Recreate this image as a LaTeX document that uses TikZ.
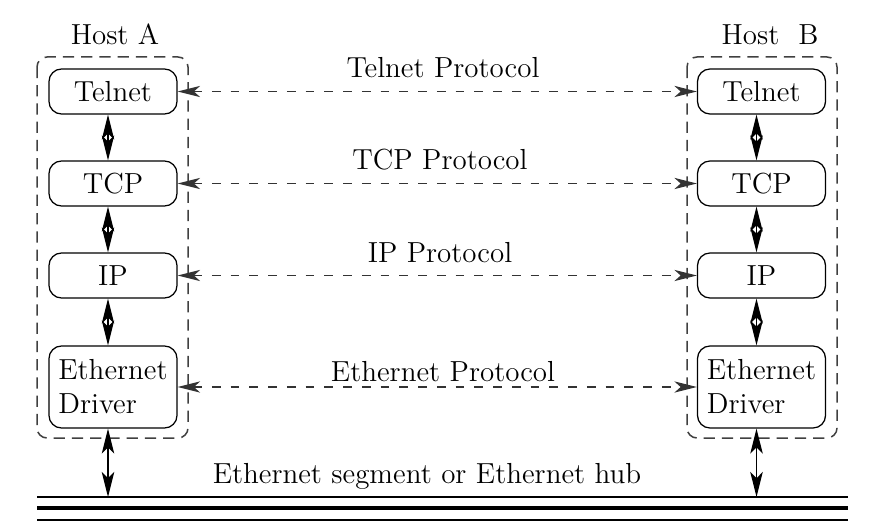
\documentclass[tikz,border=0pt]{standalone}
\usetikzlibrary{arrows.meta}

\begin{document}
\begin{tikzpicture}[x=0.4pt,y=-0.4pt,
    every node/.style={font=\fontsize{11.6}{13.6}\selectfont},
    layer/.style={draw,rounded corners=5pt,line width=0.5pt,inner sep=0pt,
      minimum width=51.2pt,minimum height=18pt,align=left},
    host/.style={draw=black!75,line width=0.6pt,rounded corners=4pt,
      dash pattern=on 4.5pt off 2.8pt},
    peer/.style={draw=black!80,line width=0.6pt,dash pattern=on 3.5pt off 4pt,
      {Stealth[length=9pt,width=4.5pt,inset=2.5pt]}-{Stealth[length=9pt,width=4.5pt,inset=2.5pt]}},
    stack/.style={line width=0.5pt,{Stealth[length=10pt,width=5pt,inset=2.5pt]}-{Stealth[length=10pt,width=5pt,inset=2.5pt]}},
    lbl/.style={anchor=base,inner sep=0pt}]
        \useasboundingbox (0,0) rectangle (877,531);
        %
        \draw [host] (37,57) rectangle (188,438);
        \draw [host] (687,57) rectangle (837,438);
        \node [lbl] (hostA) at (115,45) {Host A};
        \node [lbl] (hostB) at (770,45) {Host\ \ B};
        %
        \node [layer] (telA) at (113,91.5) {Telnet};
        \node [layer] (tcpA) at (113,183.5) {TCP};
        \node [layer] (ipA) at (113,275.5) {IP};
        \node [layer,minimum height=32.8pt] (ethA) at (113,387) {Ethernet\\Driver};
        %
        \node [layer] (telB) at (761.5,91.5) {Telnet};
        \node [layer] (tcpB) at (761.5,183.5) {TCP};
        \node [layer] (ipB) at (761.5,275.5) {IP};
        \node [layer,minimum height=32.8pt] (ethB) at (761.5,387) {Ethernet\\Driver};
        %
        \draw [stack] ([xshift=-2pt]telA.south) -- ([xshift=-2pt]tcpA.north);
        \draw [stack] ([xshift=-2pt]tcpA.south) -- ([xshift=-2pt]ipA.north);
        \draw [stack] ([xshift=-2pt]ipA.south) -- ([xshift=-2pt]ethA.north);
        \draw [stack] ([xshift=-2pt]telB.south) -- ([xshift=-2pt]tcpB.north);
        \draw [stack] ([xshift=-2pt]tcpB.south) -- ([xshift=-2pt]ipB.north);
        \draw [stack] ([xshift=-2pt]ipB.south) -- ([xshift=-2pt]ethB.north);
        %
        \draw [peer] (telA.east) -- (telB.west);
        \draw [peer] (tcpA.east) -- (tcpB.west);
        \draw [peer] (ipA.east) -- (ipB.west);
        \draw [peer] (ethA.east) -- (ethB.west);
        \node [lbl] (telP) at (443,78) {Telnet Protocol};
        \node [lbl] (tcpP) at (440,170) {TCP Protocol};
        \node [lbl] (ipP) at (440,263) {IP Protocol};
        \node [lbl] (ethP) at (443,381) {Ethernet Protocol};
        %
        \coordinate (busA) at (37,497);
        \coordinate (busB) at (848,497);
        \draw [line width=0.45pt] (busA) -- (busB);
        \draw [line width=1.3pt] ([yshift=-4.4pt]busA) -- ([yshift=-4.4pt]busB);
        \draw [line width=0.45pt] ([yshift=-9.2pt]busA) -- ([yshift=-9.2pt]busB);
        \node [lbl] (bus) at (427,483) {Ethernet segment or Ethernet hub};
        %
        \draw [stack] ([xshift=-2pt]ethA.south) -- ([xshift=-2pt]ethA.south |- busA);
        \draw [stack] ([xshift=-2pt]ethB.south) -- ([xshift=-2pt]ethB.south |- busA);
      \end{tikzpicture}
\end{document}
